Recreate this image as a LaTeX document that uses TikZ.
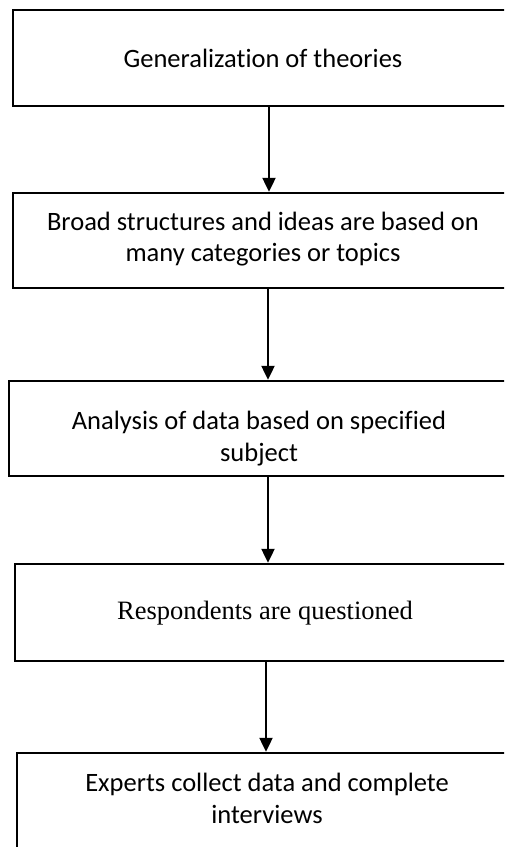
\documentclass[tikz,border=0pt]{standalone}
\usepackage{fontspec}
\setmainfont{Carlito}[Ligatures=CommonOff]
\newfontfamily\timesfont{Liberation Serif}
\usetikzlibrary{arrows.meta}
\begin{document}
\begin{tikzpicture}[x=1pt,y=-1pt,
  stepbox/.style={draw,line width=2.4pt,rectangle,minimum width=500pt,inner sep=0pt},
  label/.style={anchor=base,inner sep=0pt,align=center,font=\fontsize{26.5}{31.7}\selectfont},
  flow/.style={line width=2.2pt,-{Triangle[width=13pt,length=14pt]}}]
\clip (0,0) rectangle (504,847);
\useasboundingbox (0,0) rectangle (504,847);
% the five stages of the procedure
\node[stepbox,minimum height=96pt] (b1) at (263,58) {};
\node[stepbox,minimum height=95pt] (b2) at (263,240.5) {};
\node[stepbox,minimum height=95pt] (b3) at (259,428.5) {};
\node[stepbox,minimum height=97pt] (b4) at (265,612.5) {};
\node[stepbox,minimum height=97pt] (b5) at (267,801.5) {};
% their captions (base anchor sits on the last line)
\node[label] (t1) at (263,67.7) {Generalization of theories};
\node[label] (t2) at (263,261.7) {Broad structures and ideas are based on\\many categories or topics};
\node[label] (t3) at (259,461) {Analysis of data based on specified\\subject};
\node[label,font=\fontsize{26.5}{31.7}\selectfont\timesfont] (t4) at (265,619) {Respondents are questioned};
\node[label] (t5) at (267,823) {Experts collect data and complete\\interviews};
% arrows between consecutive stages
\draw[flow] ([xshift=6pt]b1.south) -- ([xshift=6pt]b2.north);
\draw[flow] ([xshift=5pt]b2.south) -- ([xshift=9pt]b3.north);
\draw[flow] ([xshift=9pt]b3.south) -- ([xshift=3pt]b4.north);
\draw[flow] ([xshift=1pt]b4.south) -- ([xshift=-1pt]b5.north);
\end{tikzpicture}
\end{document}
